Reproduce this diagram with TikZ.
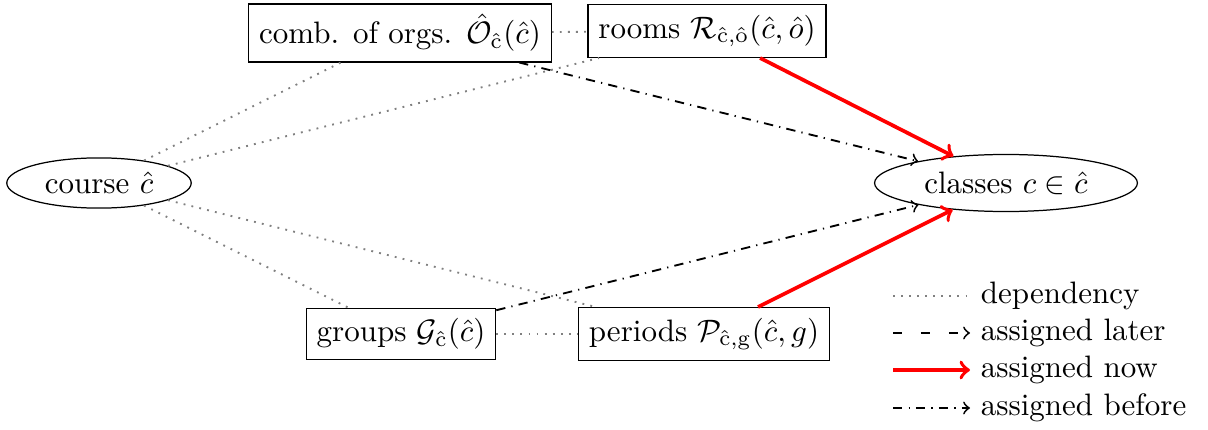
\documentclass[tikz,border=0pt]{standalone}
\usetikzlibrary{shapes.geometric}
\tikzset{
  box/.style={draw, thin, inner sep=0.3333em},
  oval/.style={draw, thin, ellipse, inner sep=0pt},
  dep/.style={gray, dotted, semithick},
  later/.style={->, loosely dashed, semithick},
  now/.style={->, red, very thick},
  before/.style={->, dash dot, semithick},
  legtext/.style={anchor=west, inner sep=0.3333em, text height=7pt, text depth=2pt}
}
\begin{document}
\begin{tikzpicture}[x=0.3226pt, y=-0.3226pt]
\useasboundingbox (0,0) rectangle (1208,430);
\node[oval, minimum width=59.5pt, minimum height=16.2pt] (course) at (99,183) {course $\hat{c}$};
\node[oval, minimum width=84.8pt, minimum height=18.4pt] (classes) at (1006,183) {classes $c \in \hat{c}$};
\node[box] (comb) at (400,33) {comb. of orgs. $\hat{\mathcal{O}}_{\hat{\mathrm{c}}}(\hat{c})$};
\node[box] (rooms) at (707,31) {rooms $\mathcal{R}_{\hat{\mathrm{c}},\hat{\mathrm{o}}}(\hat{c},\hat{o})$};
\node[box] (groups) at (401,334) {groups $\mathcal{G}_{\hat{\mathrm{c}}}(\hat{c})$};
\node[box] (periods) at (704,334) {periods $\mathcal{P}_{\hat{\mathrm{c}},\mathrm{g}}(\hat{c},g)$};

\draw[dep] (comb) -- (rooms);
\draw[dep] (groups) -- (periods);
\draw[dep] (course) -- (comb);
\draw[dep] (course) -- (rooms);
\draw[dep] (course) -- (groups);
\draw[dep] (course) -- (periods);

\draw[before] (comb) -- (classes);
\draw[before] (groups) -- (classes);
\draw[now] (rooms) -- (classes);
\draw[now] (periods) -- (classes);

% legend
\node[legtext] (t1) at (970,296) {dependency};
\node[legtext] (t2) at (970,333) {assigned later};
\node[legtext] (t3) at (970,370) {assigned now};
\node[legtext] (t4) at (970,408) {assigned before};
\coordinate (c1) at (893,296);
\coordinate (c2) at (893,333);
\coordinate (c3) at (893,370);
\coordinate (c4) at (893,408);
\draw[dep] (c1) -- (t1);
\draw[later] (c2) -- (t2);
\draw[now] (c3) -- (t3);
\draw[before] (c4) -- (t4);
\end{tikzpicture}
\end{document}
